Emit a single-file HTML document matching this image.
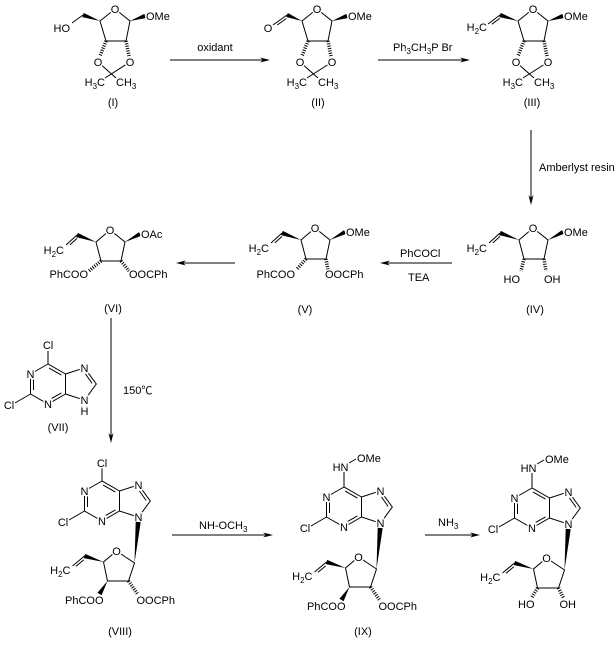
<!DOCTYPE html>
<html><head><meta charset="utf-8"><style>
html,body{margin:0;padding:0;background:#fff;}
svg{display:block}
line,path{stroke:#000;stroke-width:1;fill:none}
polygon{fill:#000;stroke:none}
circle{fill:#fff;stroke:none}
.h{stroke-width:3.5;stroke-dasharray:1 1.4}
text{font-family:"Liberation Sans",Arial,"Noto Sans CJK SC",sans-serif;font-size:11px;fill:#000;stroke:#fff;stroke-width:3px;paint-order:stroke;stroke-linejoin:round}
.m{text-anchor:middle}.e{text-anchor:end}
.s{font-size:8px}
</style></head><body>
<svg width="616" height="647" viewBox="0 0 616 647" xmlns="http://www.w3.org/2000/svg">

<!-- ROW 1 -->
<!-- I -->
<g transform="translate(115,0)">
<path d="M-15,21 L0,9 L15,21 L11,41 L-9,41 Z M-17,62 L1,78 M15,62 L-10,78"/>
<line class="h" x1="-9" y1="41" x2="-15" y2="56"/>
<line class="h" x1="11" y1="41" x2="14" y2="56"/>
<polygon points="15,21 30.7,18.1 29.3,13.9"/>
<polygon points="-15,21 -31.3,12.9 -32.7,17.1"/>
<line x1="-32" y1="15" x2="-43" y2="23"/>
<circle cx="0" cy="9" r="5"/><circle cx="-17" cy="62" r="5"/><circle cx="15" cy="62" r="5"/>
<text x="0" y="13" class="m">O</text>
<text x="-17" y="66" class="m">O</text>
<text x="15" y="66" class="m">O</text>
<text x="-10" y="86" class="e">H<tspan class="s" dy="3">3</tspan><tspan dy="-3">C</tspan></text>
<text x="1" y="86">CH<tspan class="s" dy="3">3</tspan></text>
<text x="31" y="20">OMe</text>
<text x="-45" y="32" class="e">HO</text>
<text x="-2" y="106" class="m">(I)</text>
</g>

<!-- II -->
<g transform="translate(317,0)">
<path d="M-15,21 L0,9 L15,21 L11,41 L-9,41 Z M-17,62 L1,78 M15,62 L-10,78"/>
<line class="h" x1="-9" y1="41" x2="-15" y2="56"/>
<line class="h" x1="11" y1="41" x2="14" y2="56"/>
<polygon points="15,21 30.7,18.1 29.3,13.9"/>
<polygon points="-15,21 -29.2,13 -30.8,17"/>
<path d="M-30,15 L-44,25 M-30.6,18.5 L-39.8,25"/>
<circle cx="0" cy="9" r="5"/><circle cx="-17" cy="62" r="5"/><circle cx="15" cy="62" r="5"/><circle cx="-49" cy="28" r="5"/>
<text x="0" y="13" class="m">O</text>
<text x="-17" y="66" class="m">O</text>
<text x="15" y="66" class="m">O</text>
<text x="-10" y="86" class="e">H<tspan class="s" dy="3">3</tspan><tspan dy="-3">C</tspan></text>
<text x="1" y="86">CH<tspan class="s" dy="3">3</tspan></text>
<text x="31" y="20">OMe</text>
<text x="-49" y="32" class="m">O</text>
<text x="1" y="106" class="m">(II)</text>
</g>

<!-- III -->
<g transform="translate(533,0)">
<path d="M-15,21 L0,9 L15,21 L11,41 L-9,41 Z M-17,62 L1,78 M15,62 L-10,78"/>
<line class="h" x1="-9" y1="41" x2="-15" y2="56"/>
<line class="h" x1="11" y1="41" x2="14" y2="56"/>
<polygon points="15,21 30.7,18.1 29.3,13.9"/>
<polygon points="-15,21 -32.3,12.9 -33.7,17.1"/>
<path d="M-33,15 L-45,24 M-33.3,18.4 L-41.1,24.2"/>
<circle cx="0" cy="9" r="5"/><circle cx="-17" cy="62" r="5"/><circle cx="15" cy="62" r="5"/>
<text x="0" y="13" class="m">O</text>
<text x="-17" y="66" class="m">O</text>
<text x="15" y="66" class="m">O</text>
<text x="-10" y="86" class="e">H<tspan class="s" dy="3">3</tspan><tspan dy="-3">C</tspan></text>
<text x="1" y="86">CH<tspan class="s" dy="3">3</tspan></text>
<text x="31" y="20">OMe</text>
<text x="-46" y="31" class="e">H<tspan class="s" dy="3">2</tspan><tspan dy="-3">C</tspan></text>
<text x="-1" y="106" class="m">(III)</text>
</g>

<!-- Arrows row 1 -->
<line x1="170" y1="60" x2="264" y2="60"/>
<polygon points="270,60 260,57.5 263,60 260,62.5"/>
<text x="215" y="51" class="m">oxidant</text>
<line x1="378" y1="60" x2="464" y2="60"/>
<polygon points="470,60 460,57.5 463,60 460,62.5"/>
<text x="393" y="51">Ph<tspan class="s" dy="3">3</tspan><tspan dy="-3">CH</tspan><tspan class="s" dy="3">3</tspan><tspan dy="-3">P Br</tspan></text>

<line x1="531" y1="130" x2="531" y2="199"/>
<polygon points="531,205 528.5,195 531,198 533.5,195"/>
<text x="539" y="171">Amberlyst resin</text>

<!-- ROW 2 -->
<!-- VI -->
<g transform="translate(110,230)">
<path d="M-14,12 L0,0 L15,12 L11,31 L-9,31 Z M-33,5 L-44,15 M-33,8.35 L-40.1,14.85"/>
<polygon points="-14,12 -32.2,2.9 -33.8,7.1"/>
<polygon points="15,12 31,5.9 29,2.1"/>
<line class="h" x1="-9" y1="31" x2="-21" y2="41"/>
<line class="h" x1="11" y1="31" x2="19" y2="41"/>
<circle cx="0" cy="0" r="5"/>
<text x="0" y="4" class="m">O</text>
<text x="-46" y="24" class="e">H<tspan class="s" dy="3">2</tspan><tspan dy="-3">C</tspan></text>
<text x="31" y="8">OAc</text>
<text x="-22" y="48" class="e">PhCOO</text>
<text x="19" y="48">OOCPh</text>
<text x="3" y="82" class="m">(VI)</text>
</g>

<!-- V -->
<g transform="translate(315,228)">
<path d="M-14,12 L0,0 L15,12 L11,31 L-9,31 Z M-33,5 L-44,15 M-33,8.35 L-40.1,14.85"/>
<polygon points="-14,12 -32.2,2.9 -33.8,7.1"/>
<polygon points="15,12 31,5.9 29,2.1"/>
<line class="h" x1="-9" y1="31" x2="-18" y2="41"/>
<line class="h" x1="11" y1="31" x2="13" y2="42"/>
<circle cx="0" cy="0" r="5"/>
<text x="0" y="4" class="m">O</text>
<text x="-46" y="24" class="e">H<tspan class="s" dy="3">2</tspan><tspan dy="-3">C</tspan></text>
<text x="31" y="8">OMe</text>
<text x="-20" y="50" class="e">PhCOO</text>
<text x="10" y="50">OOCPh</text>
<text x="-10" y="85" class="m">(V)</text>
</g>

<!-- IV -->
<g transform="translate(533,228)">
<path d="M-14,12 L0,0 L15,12 L11,31 L-9,31 Z M-33,5 L-44,15 M-33,8.35 L-40.1,14.85"/>
<polygon points="-14,12 -32.2,2.9 -33.8,7.1"/>
<polygon points="15,12 31,5.9 29,2.1"/>
<line class="h" x1="-9" y1="31" x2="-12" y2="43"/>
<line class="h" x1="11" y1="31" x2="13" y2="43"/>
<circle cx="0" cy="0" r="5"/>
<text x="0" y="4" class="m">O</text>
<text x="-46" y="24" class="e">H<tspan class="s" dy="3">2</tspan><tspan dy="-3">C</tspan></text>
<text x="31" y="8">OMe</text>
<text x="-13" y="55" class="e">HO</text>
<text x="11" y="55">OH</text>
<text x="2" y="85" class="m">(IV)</text>
</g>

<!-- Arrows row 2 -->
<line x1="452" y1="263" x2="386" y2="263"/>
<polygon points="380,263 390,260.5 387,263 390,265.5"/>
<text x="400" y="257">PhCOCl</text>
<text x="408" y="281">TEA</text>
<line x1="235" y1="263" x2="182" y2="263"/>
<polygon points="176,263 186,260.5 183,263 186,265.5"/>

<line x1="111" y1="318" x2="111" y2="437"/>
<polygon points="111,443 108.5,433 111,436 113.5,433"/>
<text x="123" y="394">150℃</text>

<!-- ROW 3 -->
<!-- VII -->
<g transform="translate(48,364)">
<path d="M0,0 L-17.5,10 L-17.5,30 L0,40 L17.5,30 L17.5,10 Z M17.5,10 L36.5,3.8 L48.3,20 L36.5,36.2 L17.5,30 M1.1,4.1 L13.4,11.1 M-14.5,15 L-14.5,26 M3.7,34.4 L13.4,28.9 M37.5,10 L44.1,19.4 M-17.5,30 L-33,39 M0,0 L0,-13"/>
<circle cx="-17.5" cy="10" r="5"/><circle cx="0" cy="40" r="5"/><circle cx="36.5" cy="3.8" r="5"/><circle cx="36.5" cy="36.2" r="5"/>
<text x="-17.5" y="14" class="m">N</text>
<text x="0" y="44" class="m">N</text>
<text x="36.5" y="7.8" class="m">N</text>
<text x="36.5" y="40.2" class="m">N</text>
<text x="36.5" y="51" class="m">H</text>
<text x="-39" y="45" class="m">Cl</text>
<text x="0" y="-15" class="m">Cl</text>
</g>
<text x="58" y="431" class="m">(VII)</text>

<!-- VIII purine -->
<g transform="translate(102,481)">
<path d="M0,0 L-17.5,10 L-17.5,30 L0,40 L17.5,30 L17.5,10 Z M17.5,10 L36.5,3.8 L48.3,20 L36.5,36.2 L17.5,30 M1.1,4.1 L13.4,11.1 M-14.5,15 L-14.5,26 M3.7,34.4 L13.4,28.9 M37.5,10 L44.1,19.4 M-17.5,30 L-33,39 M0,0 L0,-13"/>
<circle cx="-17.5" cy="10" r="5"/><circle cx="0" cy="40" r="5"/><circle cx="36.5" cy="3.8" r="5"/><circle cx="36.5" cy="36.2" r="5"/>
<text x="-17.5" y="14" class="m">N</text>
<text x="0" y="44" class="m">N</text>
<text x="36.5" y="7.8" class="m">N</text>
<text x="36.5" y="40.2" class="m">N</text>
<text x="-39" y="45" class="m">Cl</text>
<text x="0" y="-14" class="m">Cl</text>
</g>
<polygon points="134.5,563 140.7,522.2 135.7,521.8"/>
<g transform="translate(134.5,563)">
<path d="M0,0 L-18,-12 L-31,-1 L-27,18 L-6,18 Z M-50,-7 L-62,3 M-50.8,-3.1 L-58.6,3.4"/>
<polygon points="-31,-1 -49.3,-9.1 -50.7,-4.9"/>
<polygon points="-27,18 -32.96,32.26 -37.04,29.74"/>
<line class="h" x1="-6" y1="18" x2="3" y2="31"/>
<circle cx="-18" cy="-12" r="5"/>
<text x="-18" y="-8" class="m">O</text>
<text x="-64" y="11" class="e">H<tspan class="s" dy="3">2</tspan><tspan dy="-3">C</tspan></text>
<text x="-31" y="41" class="e">PhCOO</text>
<text x="2" y="41">OOCPh</text>
</g>
<text x="120" y="635" class="m">(VIII)</text>

<!-- Arrow VIII -> IX -->
<line x1="172" y1="535" x2="267" y2="535"/>
<polygon points="273,535 263,532.5 266,535 263,537.5"/>
<text x="199" y="529">NH-OCH<tspan class="s" dy="3">3</tspan></text>

<!-- IX purine -->
<g transform="translate(344,487)">
<path d="M0,0 L-17.5,10 L-17.5,30 L0,40 L17.5,30 L17.5,10 Z M17.5,10 L36.5,3.8 L48.3,20 L36.5,36.2 L17.5,30 M1.1,4.1 L13.4,11.1 M-14.5,15 L-14.5,26 M3.7,34.4 L13.4,28.9 M37.5,10 L44.1,19.4 M-17.5,30 L-33,39 M0,0 L0,-15 M5,-24 L12,-28"/>
<circle cx="-17.5" cy="10" r="5"/><circle cx="0" cy="40" r="5"/><circle cx="36.5" cy="3.8" r="5"/><circle cx="36.5" cy="36.2" r="5"/>
<text x="-17.5" y="14" class="m">N</text>
<text x="0" y="44" class="m">N</text>
<text x="36.5" y="7.8" class="m">N</text>
<text x="36.5" y="40.2" class="m">N</text>
<text x="-39" y="45" class="m">Cl</text>
<text x="4.5" y="-16" class="e">HN</text>
<text x="13" y="-25">OMe</text>
</g>
<polygon points="376.5,569 382.7,528.2 377.7,527.8"/>
<g transform="translate(376.5,569)">
<path d="M0,0 L-18,-12 L-31,-1 L-27,18 L-6,18 Z M-50,-7 L-62,3 M-50.8,-3.1 L-58.6,3.4"/>
<polygon points="-31,-1 -49.3,-9.1 -50.7,-4.9"/>
<polygon points="-27,18 -32.96,32.26 -37.04,29.74"/>
<line class="h" x1="-6" y1="18" x2="3" y2="31"/>
<circle cx="-18" cy="-12" r="5"/>
<text x="-18" y="-8" class="m">O</text>
<text x="-64" y="11" class="e">H<tspan class="s" dy="3">2</tspan><tspan dy="-3">C</tspan></text>
<text x="-31" y="41" class="e">PhCOO</text>
<text x="2" y="41">OOCPh</text>
</g>
<text x="363" y="635" class="m">(IX)</text>

<!-- Arrow IX -> X -->
<line x1="425" y1="535" x2="474" y2="535"/>
<polygon points="480,535 470,532.5 473,535 470,537.5"/>
<text x="438" y="526">NH<tspan class="s" dy="3">3</tspan></text>

<!-- X purine -->
<g transform="translate(532,488)">
<path d="M0,0 L-17.5,10 L-17.5,30 L0,40 L17.5,30 L17.5,10 Z M17.5,10 L36.5,3.8 L48.3,20 L36.5,36.2 L17.5,30 M1.1,4.1 L13.4,11.1 M-14.5,15 L-14.5,26 M3.7,34.4 L13.4,28.9 M37.5,10 L44.1,19.4 M-17.5,30 L-33,39 M0,0 L0,-15 M5,-24 L12,-28"/>
<circle cx="-17.5" cy="10" r="5"/><circle cx="0" cy="40" r="5"/><circle cx="36.5" cy="3.8" r="5"/><circle cx="36.5" cy="36.2" r="5"/>
<text x="-17.5" y="14" class="m">N</text>
<text x="0" y="44" class="m">N</text>
<text x="36.5" y="7.8" class="m">N</text>
<text x="36.5" y="40.2" class="m">N</text>
<text x="-39" y="45" class="m">Cl</text>
<text x="4.5" y="-16" class="e">HN</text>
<text x="13" y="-25">OMe</text>
</g>
<polygon points="564.5,570 570.7,529.2 565.7,528.8"/>
<g transform="translate(564.5,570)">
<path d="M0,0 L-18,-12 L-31,-1 L-27,18 L-6,18 Z M-50,-7 L-62,3 M-50.8,-3.1 L-58.6,3.4"/>
<polygon points="-31,-1 -49.3,-9.1 -50.7,-4.9"/>
<line class="h" x1="-27" y1="18" x2="-33" y2="28"/>
<line class="h" x1="-6" y1="18" x2="-1" y2="28"/>
<circle cx="-18" cy="-12" r="5"/>
<text x="-18" y="-8" class="m">O</text>
<text x="-64" y="11" class="e">H<tspan class="s" dy="3">2</tspan><tspan dy="-3">C</tspan></text>
<text x="-30" y="38" class="e">HO</text>
<text x="-5" y="38">OH</text>
</g>

</svg>
</body></html>
